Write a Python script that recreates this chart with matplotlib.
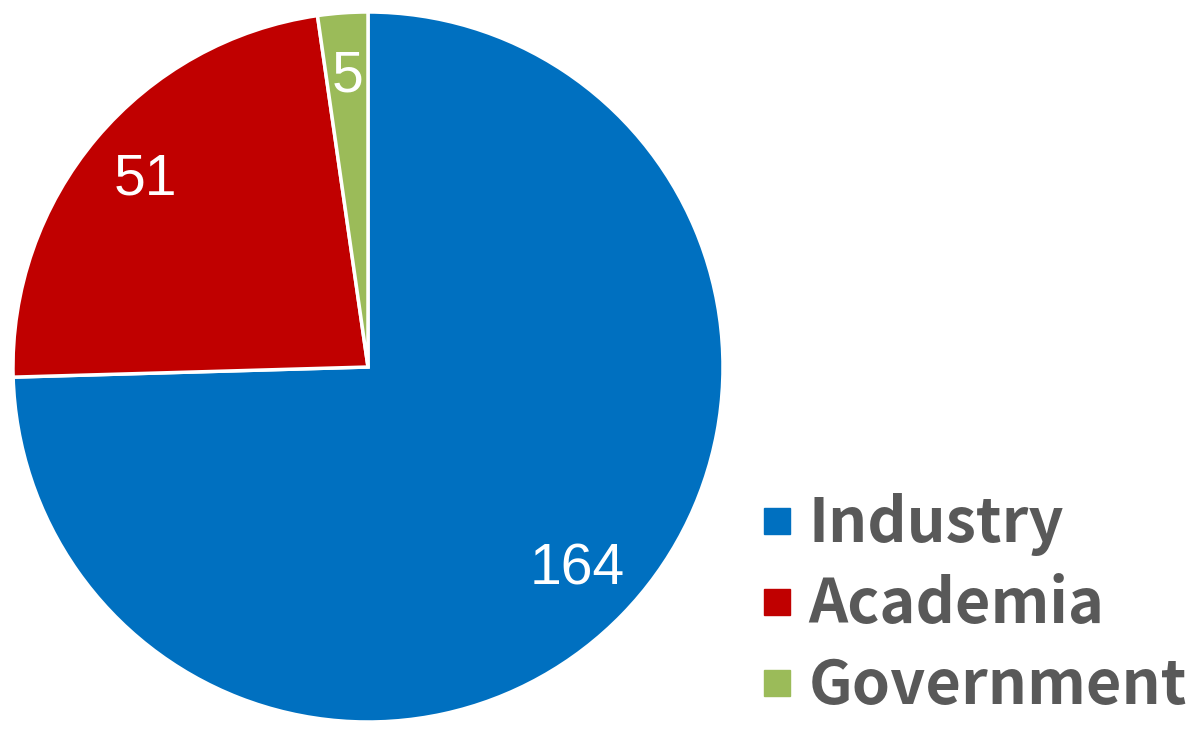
import matplotlib.pyplot as plt
from matplotlib.lines import Line2D

# Data
categories = ["Industry", "Academia", "Government"]
counts = [164, 51, 5]
colors = ["#0070C0", "#C00000", "#9BBB59"]

total = sum(counts)

fig = plt.figure(figsize=(12, 7.49), dpi=100)
# pie centred at ~(368, 367) px with radius ~355 px
ax = fig.add_axes([(368 - 355) / 1200, (749 - 367 - 355) / 749, 710 / 1200, 710 / 749])

wedges, texts, autotexts = ax.pie(
    counts,
    colors=colors,
    startangle=90,
    counterclock=False,
    autopct=lambda p: "%d" % round(p * total / 100),
    pctdistance=0.82,
    wedgeprops=dict(edgecolor="white", linewidth=2.5),
    textprops=dict(color="white", fontsize=41, family=["Liberation Sans", "DejaVu Sans"]),
)
ax.set_xlim(-1, 1)
ax.set_ylim(-1, 1)
ax.set_aspect("equal")

handles = [Line2D([], [], marker="s", linestyle="none", markersize=19.4,
                  markerfacecolor=c, markeredgecolor=c) for c in colors]
fig.legend(handles, categories, loc="center left",
           bbox_to_anchor=(728 / 1200, (749 - 605) / 749),
           frameon=False, borderpad=0, handletextpad=0.22, labelspacing=0.31,
           handlelength=0.6,
           prop=dict(family=["Noto Sans CJK JP", "DejaVu Sans"], weight="bold", size=44),
           labelcolor="#595959")

fig.savefig("out.png", dpi=100)
